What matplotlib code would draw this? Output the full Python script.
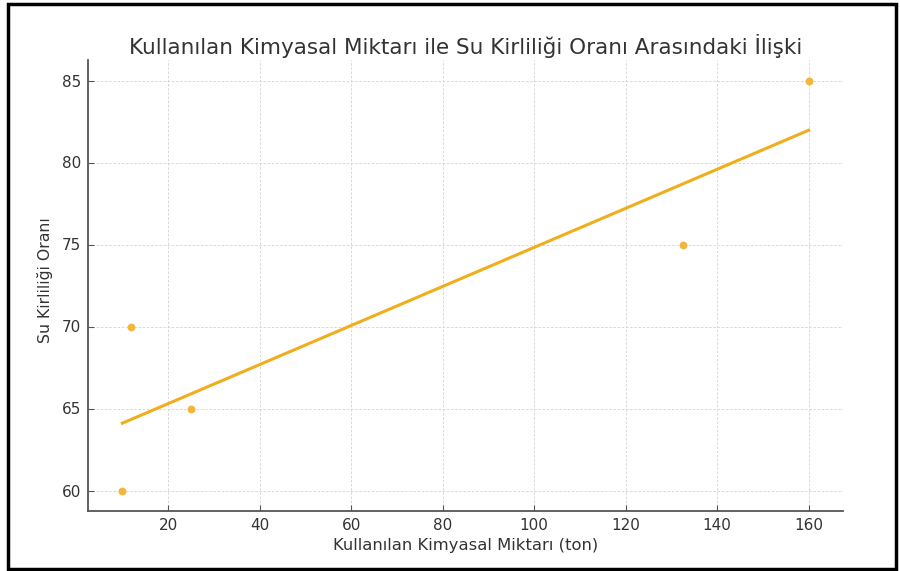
import numpy as np
import matplotlib
matplotlib.use('Agg')
import matplotlib.pyplot as plt
from matplotlib.patches import Rectangle

# Veriler
kimyasal = np.array([10, 12, 25, 132.5, 160])
kirlilik = np.array([60, 70, 65, 75, 85])

plt.rcParams.update({'font.family': 'DejaVu Sans', 'text.color': '#333333',
                     'axes.labelcolor': '#333333', 'xtick.color': '#333333',
                     'ytick.color': '#333333'})

fig = plt.figure(figsize=(9, 5.71), dpi=100)
ax = fig.add_axes([88 / 900, 1 - 511 / 571, (843 - 88) / 900, (511 - 60) / 571])

ax.scatter(kimyasal, kirlilik, color='#f5b43a', s=32, zorder=3, linewidths=0)

coefs = np.polyfit(kimyasal, kirlilik, 1)
x_line = np.array([kimyasal.min(), kimyasal.max()])
ax.plot(x_line, np.polyval(coefs, x_line), color='#f0ae1c', lw=2.2, zorder=2)

ax.set_title('Kullanılan Kimyasal Miktarı ile Su Kirliliği Oranı Arasındaki İlişki',
             fontsize=15.5, color='#333333', pad=4)
ax.set_xlabel('Kullanılan Kimyasal Miktarı (ton)', fontsize=11.8, labelpad=3.5)
ax.set_ylabel('Su Kirliliği Oranı', fontsize=11.3)
ax.yaxis.set_label_coords(-0.047, 0.512)
ax.tick_params(labelsize=11, length=4, direction='in', pad=5, color='#555555')

ax.grid(True, linestyle=(0, (3, 2)), color='#d2d2d2', linewidth=0.6)
ax.set_axisbelow(True)
for s in ['top', 'right']:
    ax.spines[s].set_visible(False)
for s in ['left', 'bottom']:
    ax.spines[s].set_color('#555555')
    ax.spines[s].set_linewidth(1.3)

# Dış çerçeve
fig.patches.append(Rectangle((8 / 900, 2 / 571), 888 / 900, 565 / 571, transform=fig.transFigure,
                             fill=False, edgecolor='black', linewidth=2.5))

fig.savefig('out.png', dpi=100)
